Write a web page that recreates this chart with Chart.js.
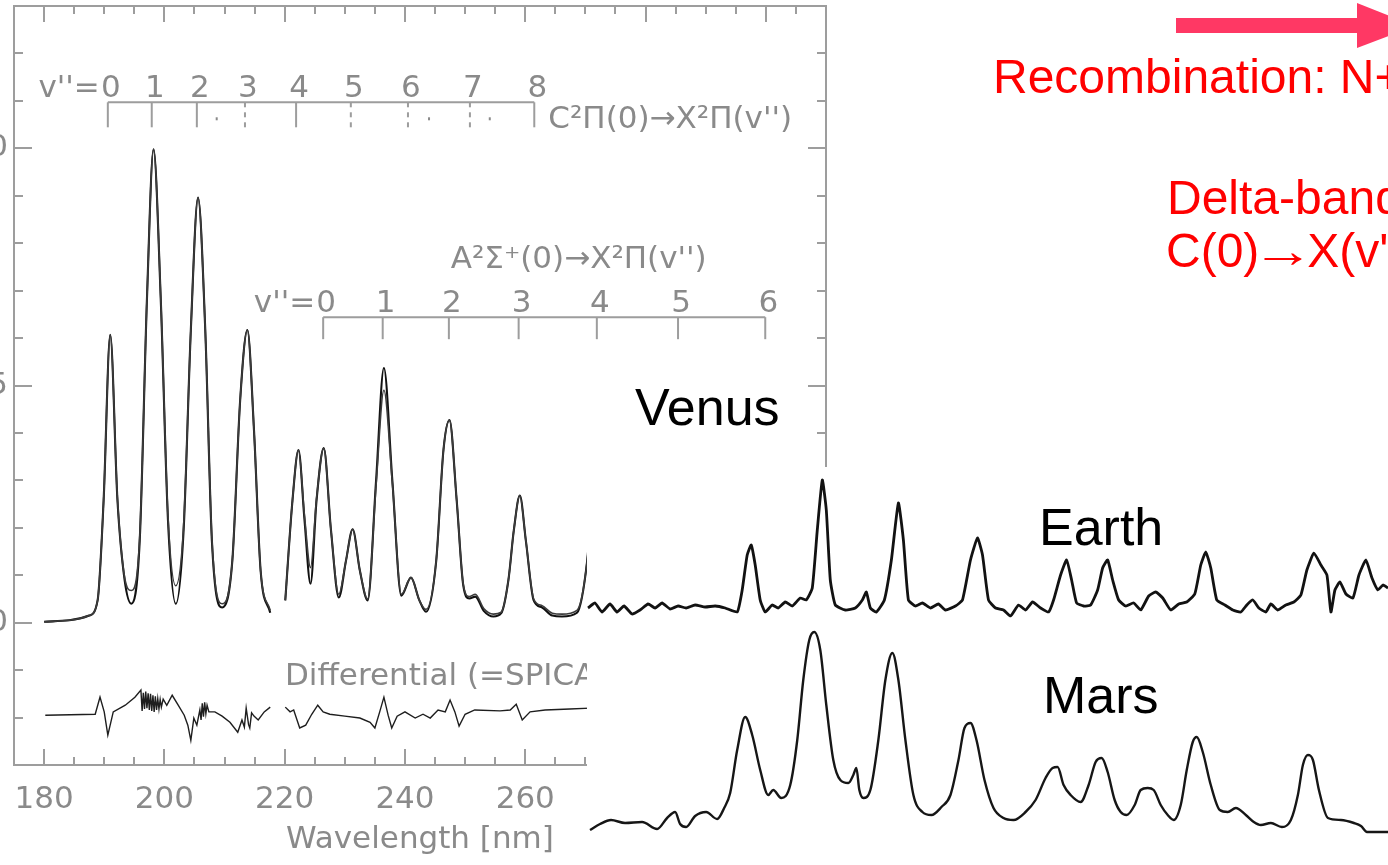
<!DOCTYPE html>
<html>
<head>
<meta charset="utf-8">
<script src="https://cdn.jsdelivr.net/npm/chart.js@4.4.1/dist/chart.umd.min.js"></script>
<style>
html,body{margin:0;padding:0;background:#fff;}
body{width:1388px;height:865px;overflow:hidden;position:relative;font-family:"Liberation Sans",Arial,sans-serif;}
canvas{position:absolute;}
#venusCanvas{left:0;top:0;}
#overlayCanvas{left:587px;top:467px;}
.lbl{position:absolute;line-height:1;white-space:nowrap;}
.red{color:#ff0000;}
.arr{display:inline-block;width:48px;text-align:center;transform:scaleX(1.3);}
</style>
</head>
<body>
<canvas id="venusCanvas" width="1388" height="865"></canvas>
<div class="lbl" style="left:635px;top:381px;font-size:52px;color:#000;">Venus</div>
<canvas id="overlayCanvas" width="801" height="398"></canvas>
<div class="lbl" style="left:1039px;top:501px;font-size:52px;color:#000;">Earth</div>
<div class="lbl" style="left:1043px;top:669px;font-size:52px;color:#000;">Mars</div>
<svg style="position:absolute;left:1170px;top:0;" width="260" height="60">
  <rect x="6" y="18" width="190" height="15" fill="#ff3864"/>
  <polygon points="187,3 245,26 187,48" fill="#ff3864"/>
</svg>
<div class="lbl red" style="left:993px;top:53px;font-size:48px;">Recombination: N+O</div>
<div class="lbl red" style="left:1167px;top:174px;font-size:48px;">Delta-band</div>
<div class="lbl red" style="left:1166px;top:227px;font-size:48px;">C(0)<span class="arr">→</span>X(v'')</div>

<script>
// ---------- Venus (SPICAV) spectrum, wavelength in nm ----------
const venusNm = [
  180.0, 184.2, 187.5, 188.9, 189.9, 191.0, 192.2, 193.4, 194.5, 195.9,
  197.1, 198.2, 199.4, 200.6, 201.9, 203.2, 204.4, 205.6, 206.8, 207.9,
  209.6, 211.3, 212.6, 213.8, 214.9, 216.0, 217.6, 218.8, 220.1, 221.3,
  222.3, 223.3, 224.3, 225.3, 226.5, 227.7, 229.0, 230.2, 231.3, 232.5,
  233.8, 235.2, 236.5, 237.9, 239.4, 241.0, 242.4, 243.5, 245.2, 246.4,
  247.4, 248.6, 249.7, 250.7, 251.7, 253.1, 254.7, 256.0, 257.2, 258.1,
  259.1, 260.1, 261.4, 262.8, 264.5, 266.1, 268.6, 270.3, 271.0
];
const venusObs = [
  0.02, 0.05, 0.15, 0.47, 2.58, 6.07, 2.58, 0.89, 0.40, 1.73,
  6.81, 9.98, 6.81, 2.16, 0.40, 1.95, 6.17, 8.96, 6.17, 1.73,
  0.32, 1.31, 4.69, 6.17, 4.06, 1.10, 0.21, null, 0.47, 2.58,
  3.64, 2.16, 0.82, 2.58, 3.68, 1.95, 0.53, 1.31, 1.97, 1.10,
  0.47, 3.00, 5.37, 3.00, 0.57, 0.95, 0.47, 0.23, 1.31, 3.64,
  4.27, 2.58, 0.78, 0.51, 0.55, 0.25, 0.13, 0.20, 0.90, 1.95,
  2.68, 1.73, 0.47, 0.32, 0.15, 0.13, 0.21, 1.31, 2.40
];
const venusModel = [
  0.02, 0.05, 0.15, 0.47, 2.58, 6.07, 2.62, 0.95, 0.68, 1.80,
  6.81, 9.98, 6.85, 2.25, 0.78, 2.05, 6.17, 8.96, 6.17, 1.78,
  0.40, 1.31, 4.69, 6.17, 4.06, 1.10, 0.26, null, 0.47, 2.58,
  3.64, 2.25, 1.16, 2.62, 3.68, 1.95, 0.60, 1.31, 1.97, 1.10,
  0.50, 2.90, 4.90, 2.95, 0.60, 0.95, 0.47, 0.28, 1.31, 3.64,
  4.27, 2.58, 0.80, 0.55, 0.60, 0.30, 0.18, 0.22, 0.90, 1.95,
  2.68, 1.73, 0.50, 0.36, 0.20, 0.18, 0.26, 1.31, 2.40
];
// Differential (SPICAV - model), plotted with an offset
const diffNm = [
  180.2, 188.5, 189.3, 190.0, 190.6, 191.5, 193.5, 195.1, 196.1, 196.3,
  196.5, 196.7, 196.9, 197.1, 197.3, 197.5, 197.7, 197.9, 198.1, 198.3,
  198.5, 198.7, 198.9, 199.1, 199.3, 199.5, 199.8, 200.4, 201.3, 202.3,
  203.3, 203.9, 204.4, 204.9, 205.4, 205.9, 206.1, 206.3, 206.5, 206.7,
  206.9, 207.1, 207.4, 208.4, 209.6, 210.9, 212.2, 212.9, 213.3, 213.6,
  214.0, 214.2, 214.5, 214.9, 215.6, 216.6, 217.6, 218.8, 220.1, 220.9,
  221.5, 222.5, 223.5, 224.5, 225.5, 226.4, 227.5, 230.0, 232.5, 234.2,
  235.0, 235.8, 236.5, 237.2, 237.8, 238.7, 240.0, 241.7, 243.0, 244.2,
  245.5, 246.7, 247.5, 248.3, 249.0, 250.0, 251.6, 255.8, 257.5, 258.5,
  259.5, 260.8, 263.3, 267.4, 270.8
];
const diffVal = [
  -1.95, -1.93, -1.57, -1.88, -2.37, -1.88, -1.74, -1.57, -1.42, -1.86,
  -1.48, -1.82, -1.45, -1.80, -1.49, -1.84, -1.50, -1.86, -1.53, -1.88,
  -1.55, -1.84, -1.60, -1.82, -1.62, -1.78, -1.61, -1.74, -1.53, -1.74,
  -1.95, -2.16, -2.48, -2.01, -2.16, -1.84, -2.05, -1.70, -1.98, -1.68,
  -1.92, -1.74, -1.88, -1.88, -1.97, -2.10, -2.31, -2.05, -2.20, -1.80,
  -2.15, -2.22, -1.90, -1.97, -2.05, -1.88, -1.78, null, -1.78, -1.88,
  -1.84, -2.22, -2.16, -1.93, -1.74, -1.88, -1.93, -1.97, -2.01, -2.10,
  -2.22, -1.88, -1.57, -1.95, -2.22, -1.97, -1.88, -2.01, -1.93, -2.01,
  -1.84, -1.88, -1.63, -1.88, -2.18, -1.93, -1.84, -1.86, -1.84, -1.72,
  -2.05, -1.88, -1.84, -1.82, -1.80
];
// Band heads (nm) and their v'' labels
const cBandNm = [190.6, 197.9, 205.4, 213.4, 221.9, 231.0, 240.5, 250.8, 261.5];
const cBandV = ['0', '1', '2', '3', '4', '5', '6', '7', '8'];
const cBandDashed = [3, 5, 6, 7];
const cBandDotsNm = [208.7, 244.0, 254.1];
const aBandNm = [226.4, 236.3, 247.3, 258.9, 271.9, 285.4, 299.9];
const aBandV = ['0', '1', '2', '3', '4', '5', '6'];

// ---------- Earth and Mars spectra (same NO delta/gamma region) ----------
const earthNm = [
  175.1, 175.8, 176.5, 177.3, 178.0, 178.7, 179.5, 180.3, 181.1, 181.8,
  182.5, 183.3, 184.1, 184.9, 185.8, 186.8, 187.8, 188.8, 190.0, 190.5,
  191.0, 191.4, 191.8, 192.3, 192.8, 193.5, 194.1, 194.8, 195.5, 196.3,
  196.9, 197.5, 198.0, 198.5, 198.9, 199.3, 199.8, 200.8, 201.8, 202.5,
  202.9, 203.3, 203.9, 204.7, 205.4, 206.1, 206.6, 207.1, 207.8, 208.5,
  209.3, 210.1, 210.8, 211.8, 212.5, 213.3, 214.0, 214.5, 215.1, 215.8,
  216.6, 217.3, 218.1, 218.8, 219.5, 220.3, 221.1, 221.6, 222.3, 222.9,
  223.4, 223.9, 224.6, 225.3, 226.0, 226.5, 227.0, 227.5, 228.1, 228.8,
  229.6, 230.3, 231.1, 231.8, 232.5, 233.3, 234.1, 234.9, 235.7, 236.3,
  236.8, 237.3, 237.9, 238.7, 239.5, 240.3, 240.9, 241.5, 242.1, 242.8,
  243.3, 244.0, 244.8, 245.6, 246.3, 246.9, 247.6, 248.3, 248.9, 249.3,
  249.7, 250.2, 250.8, 251.5, 252.1, 252.8, 253.4, 254.0, 254.5, 255.0
];
const earthVal = [
  25.7, 26.2, 25.3, 26.1, 25.3, 25.9, 25.1, 25.5, 26.1, 25.7,
  26.2, 25.6, 25.9, 25.7, 26.0, 25.8, 25.9, 25.7, 25.3, 27.5,
  31.0, 32.0, 30.0, 26.5, 25.3, 26.0, 25.7, 26.3, 25.9, 26.7,
  26.5, 27.7, 33.5, 38.5, 35.5, 28.5, 26.0, 25.5, 25.7, 26.5,
  27.3, 25.7, 25.3, 26.5, 30.5, 36.2, 32.5, 26.5, 25.9, 26.2,
  25.7, 26.1, 25.5, 25.9, 26.5, 30.5, 32.7, 31.0, 26.5, 25.7,
  25.5, 24.9, 26.0, 25.5, 26.3, 25.7, 25.3, 26.5, 29.0, 30.5,
  28.5, 26.2, 25.9, 26.0, 27.5, 29.7, 30.5, 28.5, 26.5, 25.9,
  26.2, 25.5, 26.9, 27.3, 26.7, 25.5, 26.1, 26.3, 27.1, 30.0,
  31.3, 29.7, 26.5, 26.0, 25.5, 25.3, 26.0, 26.5, 25.7, 25.3,
  26.1, 25.5, 26.0, 26.3, 27.0, 29.5, 31.2, 30.0, 29.0, 25.3,
  27.5, 28.3, 27.1, 26.7, 29.0, 30.5, 28.7, 27.5, 28.0, 27.7
];
const marsNm = [
  175.3, 176.3, 177.4, 178.8, 180.5, 182.0, 183.0, 183.8, 184.3, 184.9,
  185.8, 186.9, 188.0, 188.7, 189.3, 190.0, 190.8, 191.5, 192.3, 193.1,
  193.6, 194.4, 195.3, 196.0, 196.6, 197.2, 197.7, 198.3, 198.9, 199.6,
  200.3, 201.1, 201.6, 201.9, 202.2, 202.6, 203.3, 204.1, 204.8, 205.5,
  206.1, 206.8, 207.6, 208.5, 209.4, 210.4, 211.3, 212.1, 212.7, 213.3,
  213.9, 214.7, 215.6, 216.6, 217.6, 218.8, 219.8, 220.8, 221.5, 222.0,
  222.6, 223.3, 224.3, 225.1, 225.8, 226.4, 227.0, 227.7, 228.3, 228.9,
  229.7, 230.3, 231.0, 231.6, 232.3, 233.0, 233.6, 234.3, 234.9, 235.5,
  235.9, 236.5, 237.3, 238.2, 239.0, 239.8, 240.8, 241.6, 242.3, 243.3,
  244.4, 245.3, 246.0, 246.5, 247.0, 247.5, 248.1, 249.0, 250.3, 251.6,
  252.3, 252.9, 254.4, 255.1
];
const marsVal = [
  3.5, 4.1, 4.5, 4.2, 4.3, 3.6, 4.7, 5.3, 4.1, 3.8,
  4.9, 5.3, 4.6, 5.7, 7.2, 11.5, 14.8, 13.0, 9.5, 7.0,
  7.5, 6.7, 8.0, 12.5, 18.5, 22.5, 23.3, 21.5, 16.0, 10.5,
  8.5, 8.2, 9.0, 9.7, 7.5, 6.7, 7.5, 12.5, 18.5, 21.2,
  18.5, 12.5, 7.0, 5.3, 5.0, 5.8, 7.0, 10.5, 13.7, 14.2,
  12.5, 8.5, 5.7, 4.7, 4.5, 5.3, 6.5, 8.7, 9.7, 9.8,
  8.0, 7.0, 6.3, 8.0, 10.3, 10.7, 9.3, 6.5, 5.3, 5.0,
  6.0, 7.5, 7.7, 7.5, 6.0, 5.0, 4.5, 6.0, 9.5, 12.3,
  12.8, 11.3, 8.0, 5.5, 5.3, 5.7, 5.0, 4.3, 4.0, 4.2,
  3.8, 4.5, 7.0, 10.0, 11.0, 10.5, 7.5, 4.7, 4.5, 4.2,
  3.9, 3.3, 3.3, 3.3
];

// ---------- helpers & styles ----------
const pts = (xs, ys) => xs.map((x, i) => ({ x: x, y: ys[i] === undefined ? null : ys[i] }));
const GRAY_TXT = '#8a8a8a';
const FRAME = '#9d9d9d';
const AXFONT = '"DejaVu Sans", "Liberation Sans", sans-serif';
Chart.defaults.font.family = AXFONT;

const venusDecor = {
  id: 'venusDecor',
  afterDraw(chart) {
    const { ctx, chartArea: a, scales: { x, y } } = chart;
    ctx.save();
    // frame
    ctx.strokeStyle = FRAME;
    ctx.lineWidth = 2;
    ctx.strokeRect(a.left, a.top, a.right - a.left, a.bottom - a.top);
    // inward ticks on all four sides
    ctx.beginPath();
    x.ticks.forEach(t => {
      const v = t.value;
      if (Math.abs(v / 5 - Math.round(v / 5)) > 1e-6) return;
      const px = Math.round(x.getPixelForValue(v));
      const len = (Math.round(v) % 20 === 0) ? 16 : 8;
      ctx.moveTo(px, a.bottom); ctx.lineTo(px, a.bottom - len);
      ctx.moveTo(px, a.top); ctx.lineTo(px, a.top + len);
    });
    y.ticks.forEach(t => {
      const v = t.value;
      const py = Math.round(y.getPixelForValue(v));
      const len = (Math.round(v) % 5 === 0) ? 18 : 9;
      ctx.moveTo(a.left, py); ctx.lineTo(a.left + len, py);
      ctx.moveTo(a.right, py); ctx.lineTo(a.right - len, py);
    });
    ctx.stroke();

    // band brackets
    ctx.font = '31px ' + AXFONT;
    ctx.fillStyle = GRAY_TXT;
    ctx.textBaseline = 'alphabetic';
    function bracket(nms, labels, lineVal, tickLen, dashedIdx) {
      const ly = y.getPixelForValue(lineVal);
      const xs = nms.map(n => x.getPixelForValue(n));
      ctx.strokeStyle = FRAME;
      ctx.lineWidth = 2;
      ctx.setLineDash([]);
      ctx.beginPath();
      ctx.moveTo(xs[0], ly); ctx.lineTo(xs[xs.length - 1], ly);
      ctx.stroke();
      xs.forEach((px, i) => {
        ctx.setLineDash(dashedIdx.includes(i) ? [5, 5] : []);
        ctx.beginPath();
        ctx.moveTo(px, ly); ctx.lineTo(px, ly + tickLen);
        ctx.stroke();
      });
      ctx.setLineDash([]);
      ctx.textAlign = 'center';
      xs.forEach((px, i) => ctx.fillText(labels[i], px + 3, ly - 5));
      ctx.textAlign = 'right';
      ctx.fillText("v''=", xs[0] - 8, ly - 5);
      return { ly, xs };
    }
    const c = bracket(cBandNm, cBandV, 10.97, 25, cBandDashed);
    cBandDotsNm.forEach(n => {
      ctx.fillRect(x.getPixelForValue(n) - 1, c.ly + 15, 2, 3);
    });
    ctx.textAlign = 'left';
    ctx.fillText("C²Π(0)→X²Π(v'')", c.xs[c.xs.length - 1] + 14, c.ly + 26);

    const ab = bracket(aBandNm, aBandV, 6.44, 22, []);
    ctx.textAlign = 'left';
    ctx.fillText("A²Σ⁺(0)→X²Π(v'')", x.getPixelForValue(247.6), ab.ly - 49);

    ctx.fillText('Differential (=SPICAV−model)', x.getPixelForValue(220.05), y.getPixelForValue(-1.31));
    ctx.restore();
  }
};

new Chart(document.getElementById('venusCanvas'), {
  type: 'line',
  data: {
    datasets: [
      { data: pts(venusNm, venusModel), borderColor: '#3c3c3c', borderWidth: 1.6,
        pointRadius: 0, cubicInterpolationMode: 'monotone', spanGaps: false },
      { data: pts(venusNm, venusObs), borderColor: '#111111', borderWidth: 2.1,
        pointRadius: 0, cubicInterpolationMode: 'monotone', spanGaps: false },
      { data: pts(diffNm, diffVal), borderColor: '#1e1e1e', borderWidth: 1.4,
        pointRadius: 0, tension: 0, spanGaps: false }
    ]
  },
  options: {
    responsive: false,
    animation: false,
    devicePixelRatio: 1,
    layout: { padding: { top: 6, right: 562, left: 0, bottom: 0 } },
    plugins: { legend: { display: false }, tooltip: { enabled: false } },
    scales: {
      x: {
        type: 'linear', position: 'bottom', min: 175, max: 310,
        grid: { display: false, drawTicks: false },
        border: { display: false },
        ticks: {
          stepSize: 5, autoSkip: false, maxRotation: 0, minRotation: 0,
          padding: 16, color: GRAY_TXT, font: { size: 31 },
          callback: v => (Math.round(v) % 20 === 0 && Math.abs(v - Math.round(v)) < 1e-6) ? String(Math.round(v)) : ''
        },
        title: { display: true, text: 'Wavelength [nm]', color: GRAY_TXT,
                 font: { size: 31 }, padding: { top: 0, bottom: 6 } },
        afterFit: s => { s.height = 100; s.paddingLeft = 0; s.paddingRight = 0; }
      },
      y: {
        type: 'linear', position: 'left', min: -3, max: 13,
        grid: { display: false, drawTicks: false },
        border: { display: false },
        ticks: {
          stepSize: 1, autoSkip: false, padding: 6, color: GRAY_TXT, font: { size: 31 },
          callback: v => (Math.round(v) % 5 === 0) ? String(Math.round(v)) : ''
        },
        afterFit: s => { s.width = 14; s.paddingTop = 0; s.paddingBottom = 0; }
      }
    }
  },
  plugins: [venusDecor]
});

const whiteBg = {
  id: 'whiteBg',
  beforeDraw(c) {
    c.ctx.save();
    c.ctx.fillStyle = '#ffffff';
    c.ctx.fillRect(0, 0, c.width, c.height);
    c.ctx.restore();
  }
};

new Chart(document.getElementById('overlayCanvas'), {
  type: 'line',
  data: {
    datasets: [
      { data: pts(earthNm, earthVal), borderColor: '#121212', borderWidth: 2.8,
        pointRadius: 0, tension: 0.15 },
      { data: pts(marsNm, marsVal), borderColor: '#161616', borderWidth: 2.4,
        pointRadius: 0, cubicInterpolationMode: 'monotone' }
    ]
  },
  options: {
    responsive: false,
    animation: false,
    devicePixelRatio: 1,
    layout: { padding: 0 },
    plugins: { legend: { display: false }, tooltip: { enabled: false } },
    scales: {
      x: { type: 'linear', display: false, min: 175, max: 255 },
      y: { type: 'linear', display: false, min: 0, max: 39.8 }
    }
  },
  plugins: [whiteBg]
});
</script>
</body>
</html>
